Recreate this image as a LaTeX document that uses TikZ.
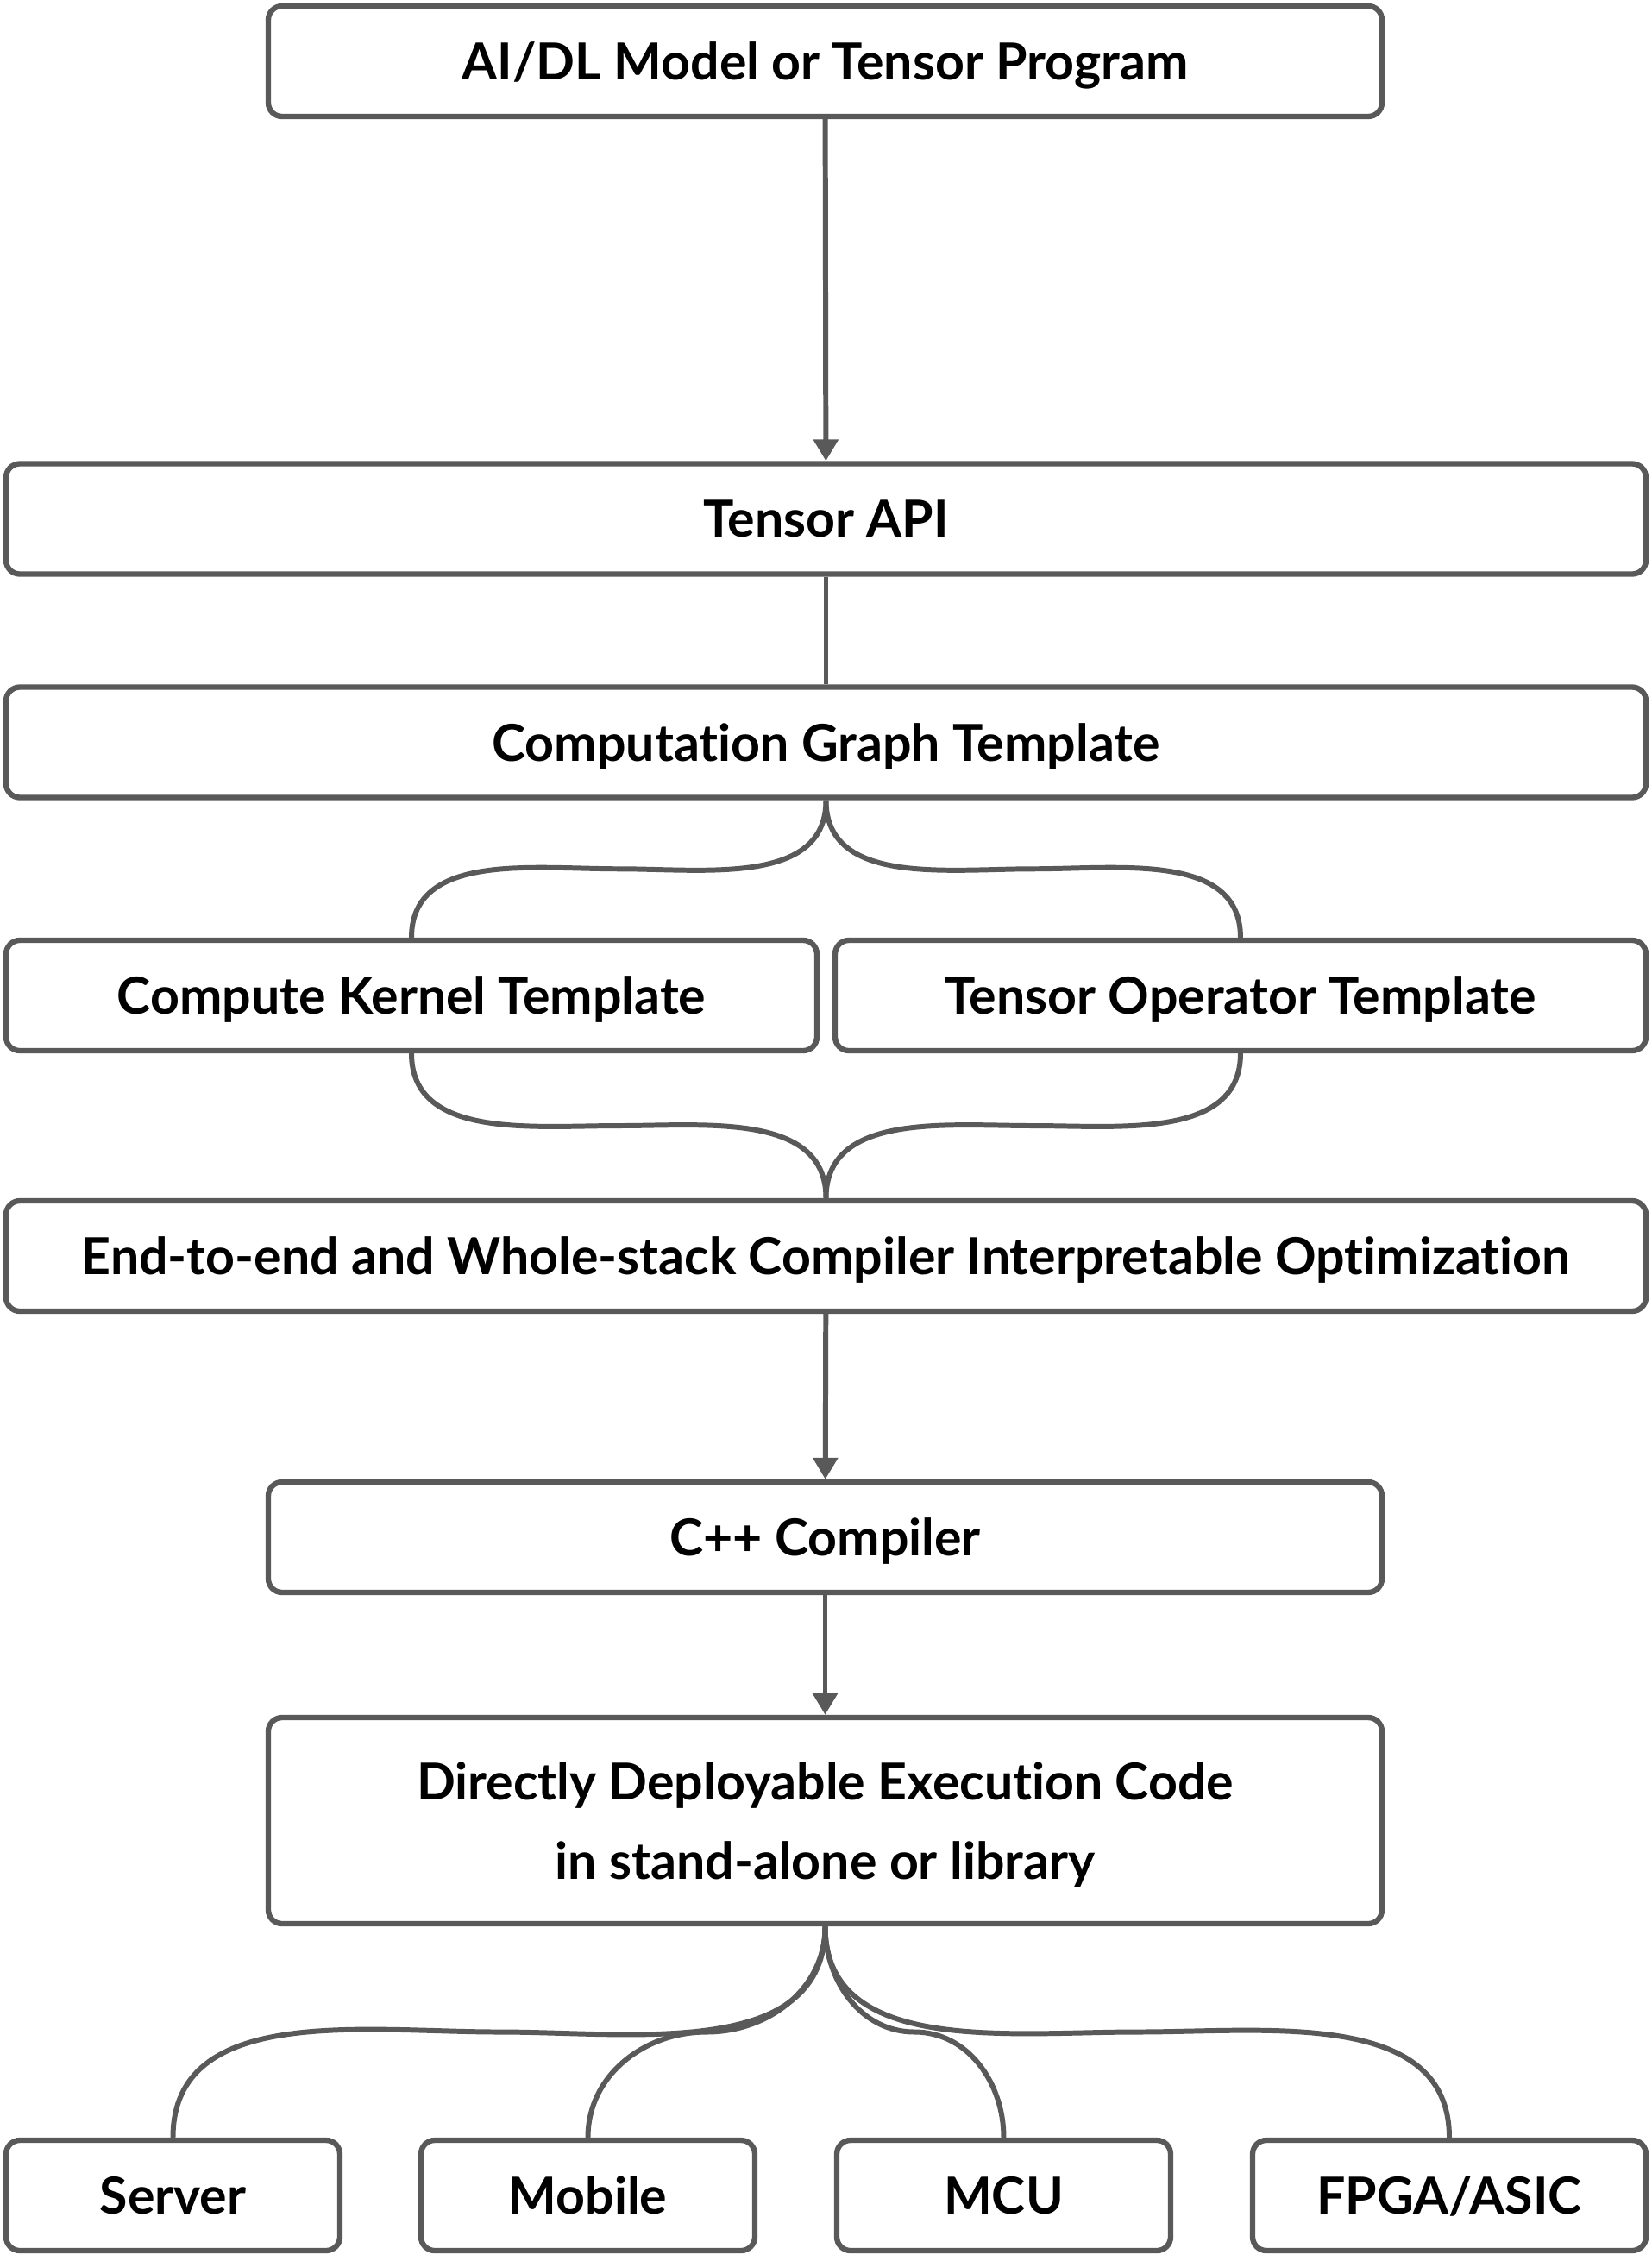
\documentclass[tikz,border=0pt]{standalone}
\usepackage{fontspec}
\setmainfont{Lato}[Ligatures=NoCommon]
\usepackage{tikz}
\usetikzlibrary{arrows.meta,calc}
\definecolor{edge}{HTML}{595959}

\begin{document}
\begin{tikzpicture}[
  x=1mm,y=1mm,
  box/.style={rounded corners=1.6mm,draw=edge,fill=white,line width=1.8pt,
    minimum width=#1,minimum height=12.8mm,inner sep=0pt,align=center,text depth=0pt,
    font=\fontsize{16.8}{26}\selectfont\bfseries},
  box/.default=129.1mm,
  arr/.style={-{Triangle[length=2.5mm,width=2.8mm]},line width=1.7pt,color=edge},
  link/.style={line width=1.7pt,color=edge}
]
\useasboundingbox (0,0) rectangle (191.5,-262.1);
\node[box] (model) at (95.65,-7.1) {AI/DL Model or Tensor Program};
\node[box=190.1mm] (api) at (95.75,-60.15) {Tensor API};
\node[box=190.1mm] (graph) at (95.75,-86.05) {Computation Graph Template};
\node[box=94mm] (kernel) at (47.7,-115.4) {Compute Kernel Template};
\node[box=94mm] (oper) at (143.8,-115.4) {Tensor Operator Template};
\node[box=190.1mm] (opt) at (95.75,-145.6) {End-to-end and Whole-stack Compiler Interpretable Optimization};
\node[box] (cpp) at (95.65,-178.2) {C++ Compiler};
\node[box,minimum height=23.9mm] (code) at (95.65,-211.05) {Directly Deployable Execution Code\\in stand-alone or library};
\node[box=38.7mm] (server) at (20.05,-254.5) {Server};
\node[box=38.7mm] (mobile) at (68.15,-254.5) {Mobile};
\node[box=38.7mm] (mcu) at (116.35,-254.5) {MCU};
\node[box=45.6mm] (fpga) at (168,-254.5) {FPGA/ASIC};
% straight links
\draw[arr] (model) -- (api);
\draw[link] (api) -- (graph);
\draw[arr] (opt) -- (cpp);
\draw[arr] (cpp) -- (code);
% split into templates, merge again
\foreach \n/\a/\b in {kernel/0/180,oper/180/0}{
  \draw[link] (graph.south) to[out=-90,in=\a] ($(graph.south)!.5!(\n.north)$) to[out=\b,in=90] (\n.north);
  \draw[link] (\n.south) to[out=-90,in=\b] ($(\n.south)!.5!(opt.north)$) to[out=\a,in=90] (opt.north);
}
% targets
\foreach \n/\a/\b in {server/0/180,mobile/0/180,mcu/180/0,fpga/180/0}
  \draw[link] (code.south) to[out=-90,in=\a] ($(code.south)!.5!(\n.north)$) to[out=\b,in=90] (\n.north);
\end{tikzpicture}
\end{document}
